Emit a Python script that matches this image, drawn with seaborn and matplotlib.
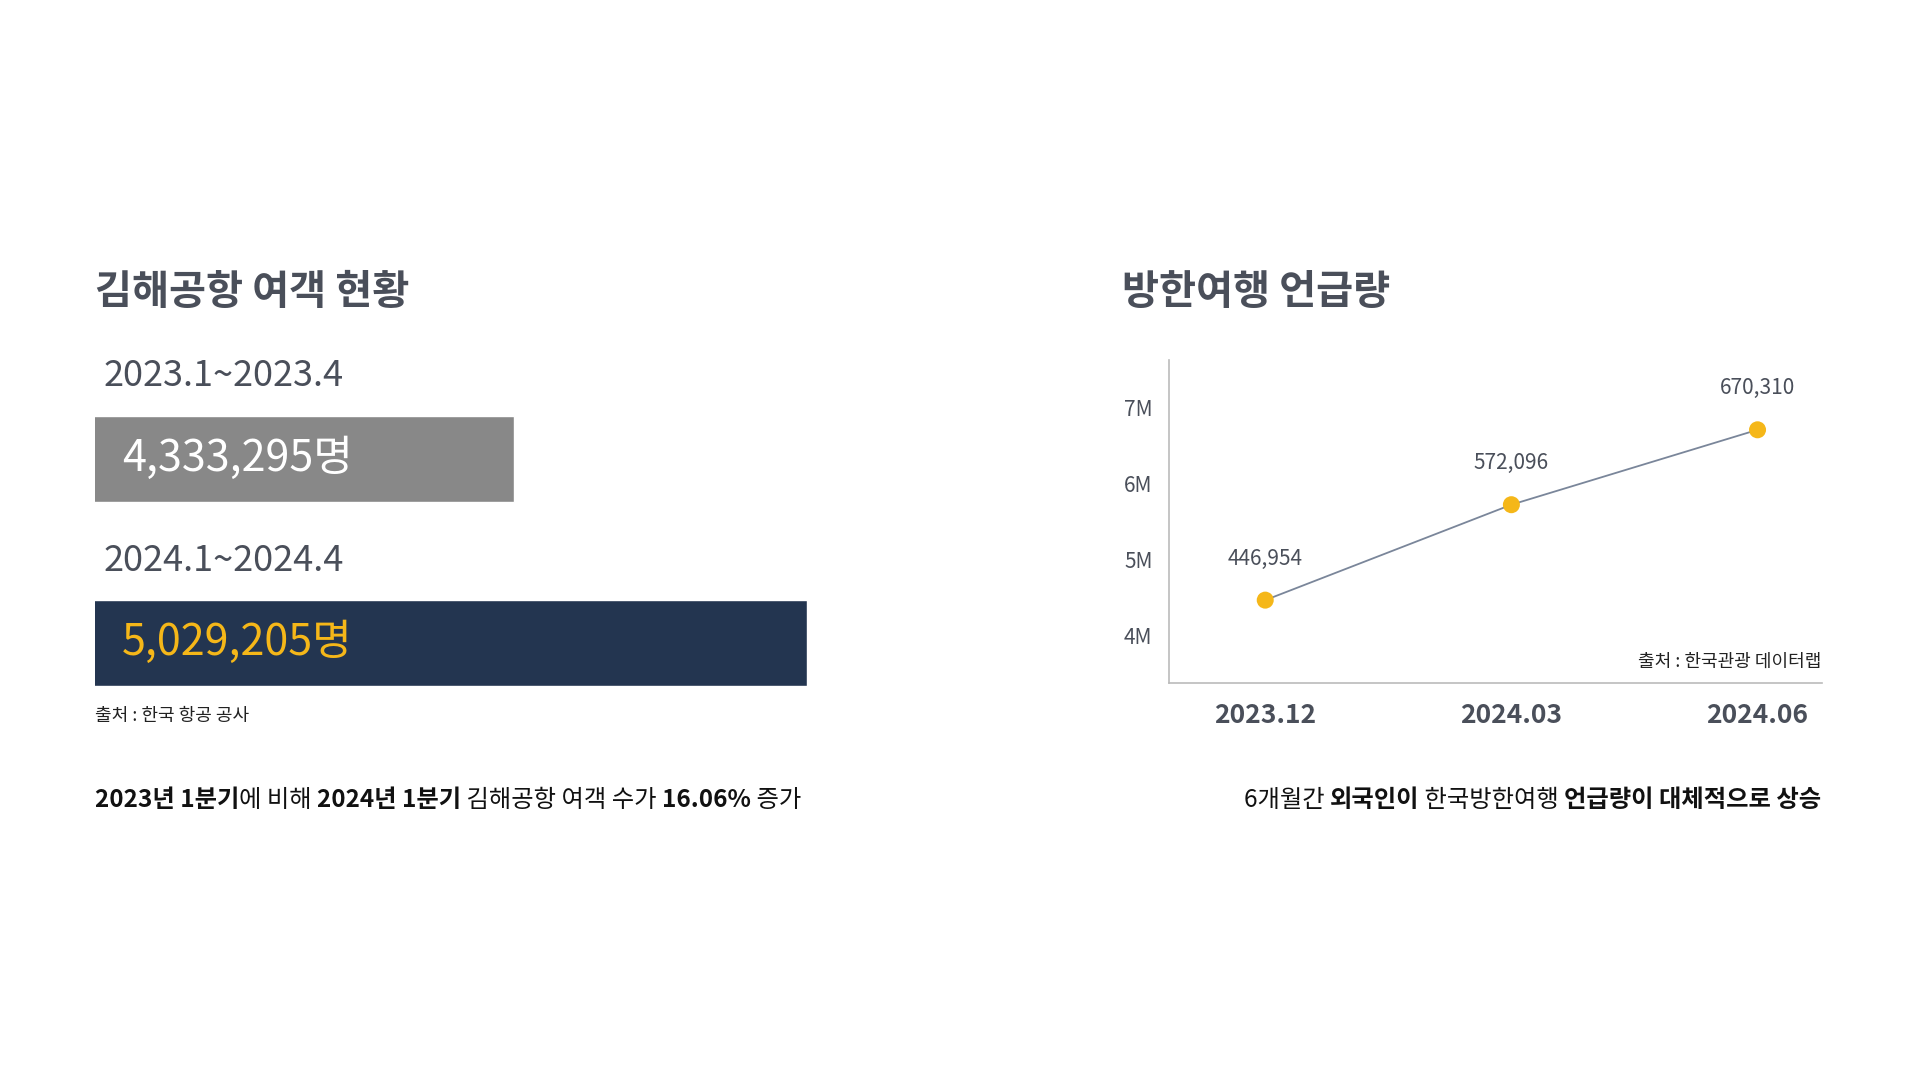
import numpy as np
import pandas as pd
import matplotlib
matplotlib.use("Agg")
import matplotlib.pyplot as plt
import seaborn as sns

# data
periods = ["2023.1~2023.4", "2024.1~2024.4"]
passengers = [4333295, 5029205]
months = ["2023.12", "2024.03", "2024.06"]
mentions = [446954, 572096, 670310]

DARK = "#4a4f5a"
GOLD = "#f5b719"
NAVY = "#1b3358"
W, H = 1560, 878

sns.set_theme(style="white")
plt.rcParams["font.family"] = ["Noto Sans CJK KR", "DejaVu Sans"]

fig = plt.figure(figsize=(19.2, 10.8), dpi=100)


def fx(x):
    return x / W


def fy(y):
    return 1 - y / H


def rich(x, y, pieces, size, ha="left"):
    # draw text pieces one after another, some bold
    renderer = fig.canvas.get_renderer()
    items = []
    total = 0
    for s, bold in pieces:
        t = fig.text(0, fy(y), s, fontsize=size, color="#111111",
                     fontweight="bold" if bold else "normal", va="center")
        w = t.get_window_extent(renderer).width / fig.bbox.width
        items.append((t, w))
        total += w
    cur = fx(x) if ha == "left" else fx(x) - total
    for t, w in items:
        t.set_x(cur)
        cur += w


# left panel: passenger bars
fig.text(fx(77), fy(238), "김해공항 여객 현황", fontsize=29, fontweight="bold", color=DARK, va="center")
ax1 = fig.add_axes([fx(77), fy(558), fx(656) - fx(77), (558 - 338) / H])
df1 = pd.DataFrame({"period": periods, "passengers": passengers})
sns.barplot(data=df1, y="period", x="passengers", hue="period", palette=["#888888", NAVY],
            width=70 / 150, legend=False, ax=ax1, orient="h")
ax1.set_xlim(3336214, 5029205)
ax1.set_ylim(1 + 35 / 150, -35 / 150)
ax1.axis("off")
for i, (p, v) in enumerate(zip(periods, passengers)):
    yc = 373 + 150 * i
    fig.text(fx(84), fy(yc - 67), p, fontsize=26, color=DARK, va="center")
    fig.text(fx(99), fy(yc), f"{v:,}명", fontsize=31, color="white" if i == 0 else GOLD, va="center")
fig.text(fx(77), fy(582), "출처 : 한국 항공 공사", fontsize=13, color="#222222", va="center")
rich(77, 650, [("2023년 1분기", True), ("에 비해 ", False), ("2024년 1분기", True),
               (" 김해공항 여객 수가 ", False), ("16.06%", True), (" 증가", False)], 17.5)

# right panel: mention line chart
fig.text(fx(912), fy(238), "방한여행 언급량", fontsize=29, fontweight="bold", color=DARK, va="center")
ax2 = fig.add_axes([fx(950), fy(555), fx(1480) - fx(950), (555 - 293) / H])
df2 = pd.DataFrame({"x": np.arange(len(months)), "m": [v * 10 / 1e6 for v in mentions]})
sns.lineplot(data=df2, x="x", y="m", color="#7a869a", lw=1.3, ax=ax2)
sns.scatterplot(data=df2, x="x", y="m", color=GOLD, s=150, edgecolor="none", zorder=3, ax=ax2)
for xi, (v, m) in enumerate(zip(mentions, df2["m"])):
    ax2.annotate(f"{v:,}", (xi, m), xytext=(0, 22), textcoords="offset points",
                 ha="center", va="bottom", fontsize=15, color=DARK)
ax2.set_xlim(-0.39, 2.26)
ax2.set_ylim(4 - 38 / 62, 7 + 38 / 62)
ax2.set_yticks([4, 5, 6, 7])
ax2.set_yticklabels(["4M", "5M", "6M", "7M"])
ax2.set_xticks(range(len(months)))
ax2.set_xticklabels(months)
ax2.tick_params(axis="y", length=0, pad=12, labelsize=15, labelcolor=DARK)
ax2.tick_params(axis="x", length=0, pad=14, labelsize=19, labelcolor=DARK)
for lab in ax2.get_xticklabels():
    lab.set_fontweight("bold")
ax2.set_xlabel("")
ax2.set_ylabel("")
for s in ["top", "right"]:
    ax2.spines[s].set_visible(False)
for s in ["left", "bottom"]:
    ax2.spines[s].set_color("#bbbbbb")
    ax2.spines[s].set_linewidth(1.2)
fig.text(fx(1480), fy(538), "출처 : 한국관광 데이터랩", fontsize=13, color="#222222", va="center", ha="right")
rich(1480, 650, [("6개월간 ", False), ("외국인이", True), (" 한국방한여행 ", False),
                 ("언급량이 대체적으로 상승", True)], 17.5, ha="right")

fig.savefig("out.png", dpi=100, facecolor="white")
